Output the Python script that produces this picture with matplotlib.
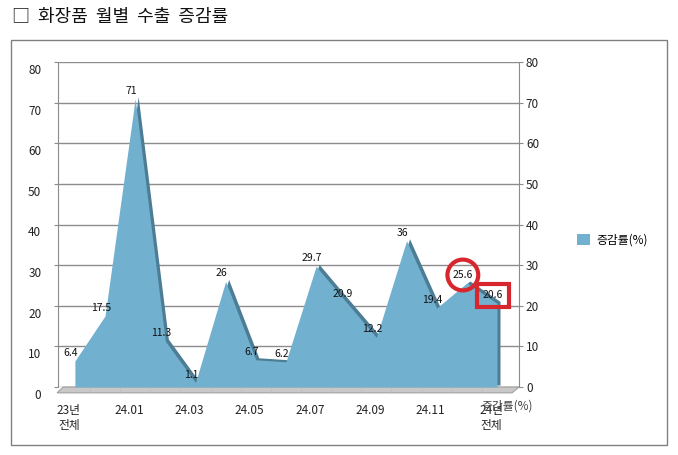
import numpy as np
import matplotlib
matplotlib.use("Agg")
import matplotlib.pyplot as plt
from matplotlib.patches import Rectangle, Polygon, Patch
from matplotlib.transforms import offset_copy, ScaledTranslation

plt.rcParams['font.family'] = ['Noto Sans CJK KR', 'DejaVu Sans']

# data
categories = ['23년\n전체', '23.12', '24.01', '24.02', '24.03', '24.04', '24.05', '24.06',
              '24.07', '24.08', '24.09', '24.10', '24.11', '24.12', '24년\n전체']
values = [6.4, 17.5, 71, 11.3, 1.1, 26, 6.7, 6.2, 29.7, 20.9, 12.2, 36, 19.4, 25.6, 20.6]
yticks = [0, 10, 20, 30, 40, 50, 60, 70, 80]
series_name = '증감률(%)'
title = '□  화장품  월별  수출  증감률'

fill_c = '#72B0CF'
dark_c = '#4D7D95'
grid_c = '#8C8C8C'
red_c = '#D7262E'

W, H = 678, 455
fig = plt.figure(figsize=(W / 100, H / 100), dpi=100)
ax = fig.add_axes([58 / W, 1 - 387 / H, (519 - 58) / W, (387 - 62) / H])

x = np.arange(len(values))
vals = np.array(values)

# outer frame + title
fig.add_artist(Rectangle((11 / W, 1 - 445 / H), (667 - 11) / W, (445 - 40) / H,
                         transform=fig.transFigure, fill=False, ec='#808080', lw=1))
fig.text(12 / W, 1 - 17 / H, title, va='center', ha='left', fontsize=13, color='#111')

# floor (3d look)
floor = Polygon([(-0.002, -0.018), (0.011, 0), (1.0, 0), (0.985, -0.018)],
                closed=True, transform=ax.transAxes, fc='#C8C8C8', ec='#A0A0A0',
                lw=0.8, clip_on=False, zorder=0.5)
ax.add_patch(floor)

# shadow side of the area, then the area
shadow_tr = offset_copy(ax.transData, fig=fig, x=3, y=2, units='dots')
ax.fill_between(x, vals, 0, color=dark_c, lw=0, transform=shadow_tr, zorder=2)
ax.fill_between(x, vals, 0, color=fill_c, lw=0, zorder=3)

ax.set_xlim(-0.56, 14.73)
ax.set_ylim(0, 80)
ax.set_yticks(yticks)
ax.yaxis.grid(True, color=grid_c, lw=1)
ax.set_axisbelow(True)

for s in ['top', 'bottom', 'right']:
    ax.spines[s].set_visible(False)
ax.spines['left'].set_color(grid_c)

ax.tick_params(axis='y', length=3, color=grid_c, pad=9, labelsize=8.5, labelcolor='#222')
ax.set_xticks(x[::2])
ax.set_xticklabels(categories[::2])
ax.set_xticks(x[:-1] + 0.5, minor=True)
ax.tick_params(axis='x', which='major', length=0, pad=12, labelsize=8.5, labelcolor='#222')
ax.tick_params(axis='x', which='minor', length=4, color='#C0C0C0')

for lab in ax.get_yticklabels():
    lab.set_transform(lab.get_transform() + ScaledTranslation(0, -7 / 100, fig.dpi_scale_trans))
for lab in ax.get_xticklabels():
    lab.set_transform(lab.get_transform() + ScaledTranslation(-6 / 100, 0, fig.dpi_scale_trans))

ax2 = ax.twinx()
ax2.set_ylim(0, 80)
ax2.set_yticks(yticks)
for s in ['top', 'bottom', 'left']:
    ax2.spines[s].set_visible(False)
ax2.spines['right'].set_color(grid_c)
ax2.tick_params(axis='y', length=3, color=grid_c, pad=2, labelsize=8.5, labelcolor='#222')

# data labels
boxes = {13: 'circle,pad=0.5', 14: 'square,pad=0.6'}
for i, v in enumerate(values):
    kw = {}
    if i in boxes:
        kw['bbox'] = dict(boxstyle=boxes[i], fc='none', ec=red_c, lw=3)
    ax.annotate(f'{v:g}', (x[i], v), xytext=(-4, 8), textcoords='offset pixels',
                ha='center', va='center', fontsize=7.5, color='#111', zorder=5, **kw)

# legend
fig.legend(handles=[Patch(fc=fill_c, ec='none')], labels=[series_name],
           loc='center left', bbox_to_anchor=(566 / W, 1 - 240 / H),
           bbox_transform=fig.transFigure, frameon=False, fontsize=8.5,
           handlelength=1.1, handleheight=1.1, handletextpad=0.6)

# overlapping axis title at bottom right
fig.text(507 / W, 1 - 406 / H, series_name, ha='center', va='center', fontsize=8.5, color='#444')

fig.savefig('out.png', dpi=100)
